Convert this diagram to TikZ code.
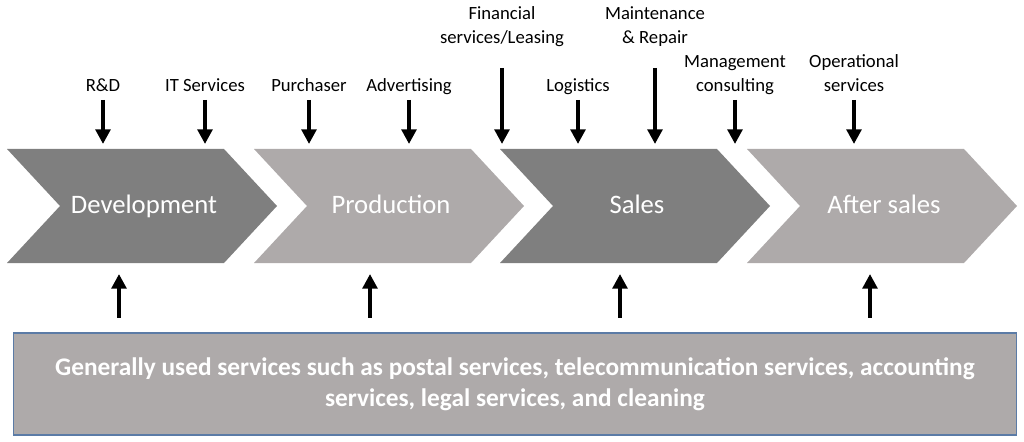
\documentclass[tikz,border=0pt]{standalone}
\usepackage{fontspec}
\setmainfont{Carlito}
\usetikzlibrary{arrows.meta}
\definecolor{darkg}{HTML}{7F7F7F}
\definecolor{lightg}{HTML}{AEAAAA}
\definecolor{boxedge}{HTML}{5B7BA6}
\begin{document}
\begin{tikzpicture}[x=0.75pt,y=-0.75pt,
  lbl/.style={font=\fontsize{14}{18}\selectfont, align=center, inner sep=0pt, anchor=base},
  stagetext/.style={font=\fontsize{20}{24}\selectfont, text=white, inner sep=0pt, anchor=base},
  arr/.style={line width=3pt, -{Triangle[width=11pt,length=11pt]}},
  chev/.style={fill=#1, draw=none},
]
\useasboundingbox (0,0) rectangle (1024,442);

% chevrons
\foreach \x/\c/\n/\t in {7/darkg/dev/Development, 254/lightg/pro/Production, 500/darkg/sal/Sales, 747/lightg/aft/After sales}{
  \fill[chev=\c] (\x,149) -- ++(217,0) -- ++(53,57) -- ++(-53,57) -- ++(-217,0) -- ++(53,-57) -- cycle;
  \node[stagetext] (\n) at (\x+137,214) {\t};
}

% top labels
\node[lbl] (rd)  at (103,92) {R\&D};
\node[lbl] (its) at (205,92) {IT Services};
\node[lbl] (pur) at (309,92) {Purchaser};
\node[lbl] (adv) at (409,92) {Advertising};
\node[lbl] (fin) at (502,44) {Financial\\services/Leasing};
\node[lbl] (log) at (578,92) {Logistics};
\node[lbl] (mnt) at (655,44) {Maintenance\\\& Repair};
\node[lbl] (mgt) at (735,92) {Management\\consulting};
\node[lbl] (ops) at (854,92) {Operational\\services};

\coordinate (chevtop) at (0,144);
\foreach \n in {rd,its,pur,adv,log,mgt,ops}{
  \draw[arr] ([yshift=-6pt]\n.base) -- (\n.base |- chevtop);
}
\foreach \n in {fin,mnt}{
  \draw[arr] ([yshift=-18pt]\n.base) -- (\n.base |- chevtop);
}

% bottom box
\node[draw=boxedge, line width=1pt, fill=lightg, minimum width=752pt, minimum height=76.5pt, inner sep=0pt,
      text=white, font=\bfseries\fontsize{19}{23}\selectfont, align=center] (box) at (515,384)
  {Generally used services such as postal services, telecommunication services, accounting\\services, legal services, and cleaning};

\coordinate (ab1) at (119,274);
\coordinate (ab2) at (370,274);
\coordinate (ab3) at (620,274);
\coordinate (ab4) at (870,274);
\foreach \i in {1,2,3,4}{
  \draw[arr] ([yshift=11pt]box.north -| ab\i) -- (ab\i);
}
\end{tikzpicture}
\end{document}
